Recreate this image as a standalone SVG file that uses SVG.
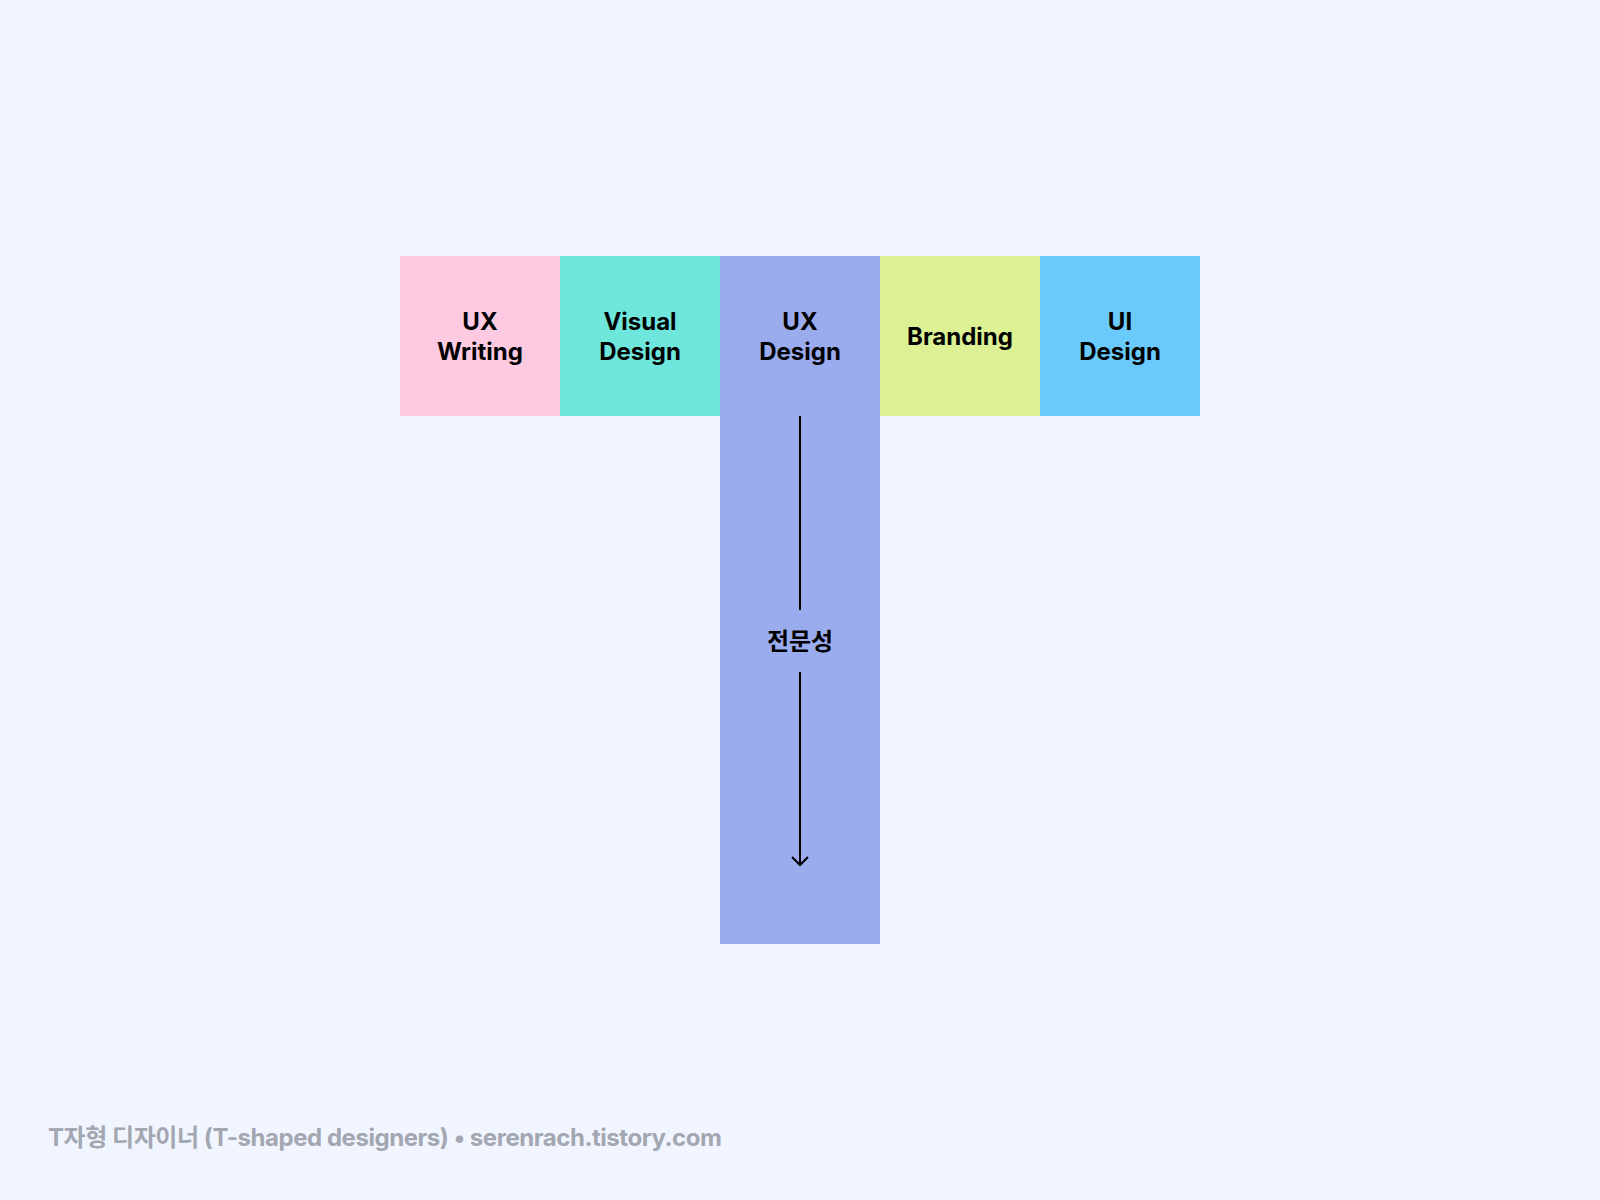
<svg xmlns="http://www.w3.org/2000/svg" width="1600" height="1200" viewBox="0 0 1600 1200">
<style>
.lbl{font-family:Inter,"Noto Sans CJK KR",sans-serif;font-weight:700;font-size:24px;fill:#000;text-anchor:middle}
.foot{font-family:Inter,"Noto Sans CJK KR",sans-serif;font-weight:700;font-size:24px;letter-spacing:-0.45px;fill:#a3a7b1}
.ln{stroke:#000;stroke-width:2;fill:none}
</style>
<defs>
<marker id="arr" viewBox="0 0 20 20" refX="18" refY="10" markerWidth="20" markerHeight="20" markerUnits="userSpaceOnUse" orient="auto">
<path d="M10 2 L18 10 L10 18" fill="none" stroke="#000" stroke-width="2"/>
</marker>
</defs>
<rect width="1600" height="1200" fill="#f1f5ff"/>
<g id="ux-writing"><rect x="400" y="256" width="160" height="160" fill="#fdcae1"/><text class="lbl" x="480" y="330">UX</text><text class="lbl" x="480" y="360">Writing</text></g>
<g id="visual-design"><rect x="560" y="256" width="160" height="160" fill="#6ee6dc"/><text class="lbl" x="640" y="330">Visual</text><text class="lbl" x="640" y="360">Design</text></g>
<g id="ux-design"><rect x="720" y="256" width="160" height="688" fill="#9aabee"/><text class="lbl" x="800" y="330">UX</text><text class="lbl" x="800" y="360">Design</text></g>
<g id="branding"><rect x="880" y="256" width="160" height="160" fill="#dcf094"/><text class="lbl" x="960" y="345">Branding</text></g>
<g id="ui-design"><rect x="1040" y="256" width="160" height="160" fill="#6acafb"/><text class="lbl" x="1120" y="330">UI</text><text class="lbl" x="1120" y="360">Design</text></g>
<g id="connectors">
<line class="ln" x1="800" y1="416" x2="800" y2="610"/>
<line class="ln" x1="800" y1="672" x2="800" y2="865" marker-end="url(#arr)"/>
</g>
<g id="expertise"><text class="lbl" x="800" y="650">전문성</text></g>
<text class="foot" x="48" y="1146">T자형 디자이너 (T-shaped designers) • serenrach.tistory.com</text>
</svg>
